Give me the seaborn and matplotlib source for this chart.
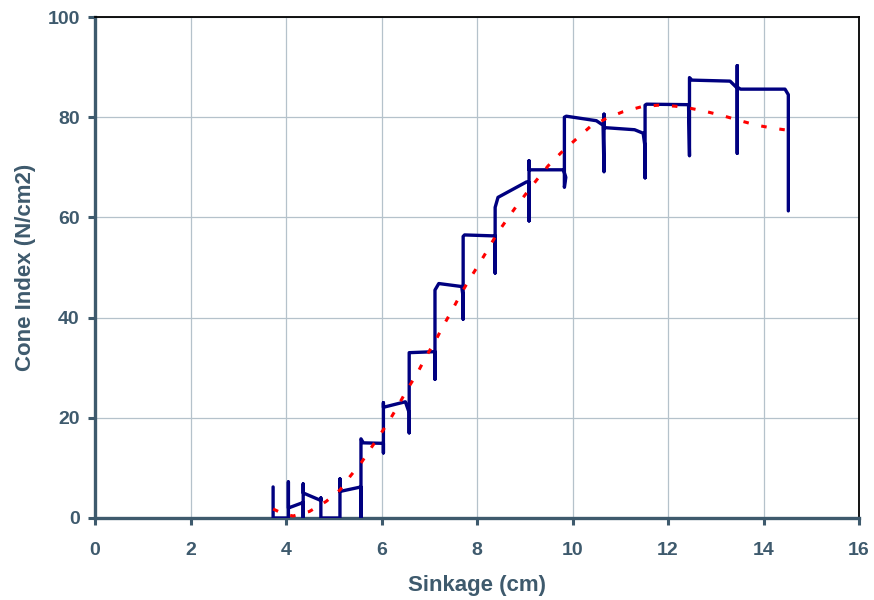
import matplotlib
matplotlib.use("Agg")
import matplotlib.pyplot as plt
import seaborn as sns
import pandas as pd

# Measured penetration trace (in recorded order)
sinkage = [3.73, 3.73, 4.05, 4.05, 4.05, 4.36, 4.36, 4.36, 4.36, 4.73,
           4.73, 4.73, 5.13, 5.13, 5.13, 5.57, 5.57, 5.57, 5.62, 6.04,
           6.04, 6.04, 6.04, 6.50, 6.58, 6.58, 6.58, 7.12, 7.12, 7.12,
           7.20, 7.68, 7.71, 7.71, 7.71, 7.74, 8.38, 8.38, 8.38, 8.44,
           9.04, 9.09, 9.09, 9.09, 9.09, 9.81, 9.86, 9.83, 9.83, 9.87,
           10.50, 10.64, 10.66, 10.66, 10.66, 10.70, 11.30, 11.48, 11.52, 11.52,
           11.52, 11.55, 12.43, 12.45, 12.45, 12.50, 13.30, 13.45, 13.45, 13.45,
           13.45, 13.52, 14.45, 14.52, 14.52]
cone = [6.2, 0.0, 0.0, 7.2, 2.0, 3.1, 0.0, 6.8, 5.0, 3.5,
        4.0, 0.0, 0.0, 7.8, 5.3, 6.2, 0.0, 15.8, 15.0, 14.9,
        13.0, 23.0, 22.1, 23.2, 21.0, 17.0, 33.0, 33.2, 27.7, 45.5,
        46.8, 46.2, 44.0, 39.7, 56.2, 56.5, 56.3, 48.9, 62.0, 64.0,
        67.1, 67.0, 59.3, 71.3, 69.5, 69.5, 68.0, 66.0, 80.0, 80.2,
        79.3, 78.4, 69.1, 80.6, 78.0, 77.9, 77.5, 76.8, 74.0, 67.9,
        82.4, 82.6, 82.5, 72.3, 87.9, 87.4, 87.2, 85.8, 72.8, 90.3,
        86.0, 85.6, 85.6, 84.5, 61.3]

# Fitted trend line
fit_x = [3.73, 3.95, 4.15, 4.49, 4.84, 5.13, 5.35, 5.58, 5.79, 5.97,
         6.18, 6.37, 6.54, 6.75, 6.93, 7.12, 7.29, 7.48, 7.66, 7.84,
         8.05, 8.24, 8.41, 8.62, 8.83, 9.04, 9.26, 9.49, 9.76, 10.05,
         10.37, 10.72, 11.06, 11.45, 11.80, 12.15, 12.46, 12.81, 13.15, 13.51,
         13.86, 14.20, 14.51]
fit_y = [1.8, 0.8, 0.4, 1.3, 3.3, 5.6, 8.4, 11.1, 14.1, 16.6,
         19.7, 22.8, 25.7, 28.9, 32.2, 35.2, 38.3, 41.5, 44.7, 47.6,
         50.8, 53.8, 56.6, 59.5, 62.3, 64.9, 67.6, 70.3, 72.9, 75.4,
         78.1, 79.8, 81.1, 82.1, 82.4, 82.2, 81.8, 81.1, 80.3, 79.3,
         78.4, 77.8, 77.4]

x_ticks = [0, 2, 4, 6, 8, 10, 12, 14, 16]
y_ticks = [0, 20, 40, 60, 80, 100]

sns.set_theme(style="white")
plt.rcParams['font.family'] = ['Liberation Sans', 'DejaVu Sans']

txt = '#3E5A6D'
fig = plt.figure(figsize=(8.74, 6.0), dpi=100)
ax = fig.add_axes([95/874, 1 - 518/600, (859-95)/874, (518-17)/600])

df = pd.DataFrame({'Sinkage': sinkage, 'Cone': cone})
dfit = pd.DataFrame({'x': fit_x, 'y': fit_y})

sns.lineplot(data=df, x='Sinkage', y='Cone', sort=False, estimator=None,
             color='#000080', lw=2.4, ax=ax, zorder=3,
             solid_joinstyle='round', solid_capstyle='round')
sns.lineplot(data=dfit, x='x', y='y', sort=False, estimator=None,
             color='#FF0000', lw=2.2, ax=ax, zorder=4)
ax.lines[-1].set_dashes((1.8, 4.2))

ax.set_xlim(0, 16)
ax.set_ylim(0, 100)
ax.set_xticks(x_ticks)
ax.set_yticks(y_ticks)
ax.set_xticklabels([str(t) for t in x_ticks])
ax.set_yticklabels([str(t) for t in y_ticks])
ax.grid(True, color='#B5C2CB', lw=0.9)
ax.set_axisbelow(True)

for s in ['left', 'bottom']:
    ax.spines[s].set_color(txt)
    ax.spines[s].set_linewidth(2.4)
for s in ['top', 'right']:
    ax.spines[s].set_color('black')
    ax.spines[s].set_linewidth(1.3)

ax.tick_params(axis='both', which='both', direction='out', length=5, width=2.2,
               color=txt, labelcolor=txt, labelsize=14, bottom=True, left=True)
for lab in ax.get_xticklabels() + ax.get_yticklabels():
    lab.set_fontweight('bold')
ax.tick_params(axis='x', pad=12)
ax.tick_params(axis='y', pad=6)

ax.set_xlabel('Sinkage (cm)', fontsize=16, fontweight='bold', color=txt, labelpad=12)
ax.set_ylabel('Cone Index (N/cm2)', fontsize=16, fontweight='bold', color=txt, labelpad=8)

fig.savefig('out.png', dpi=100)
